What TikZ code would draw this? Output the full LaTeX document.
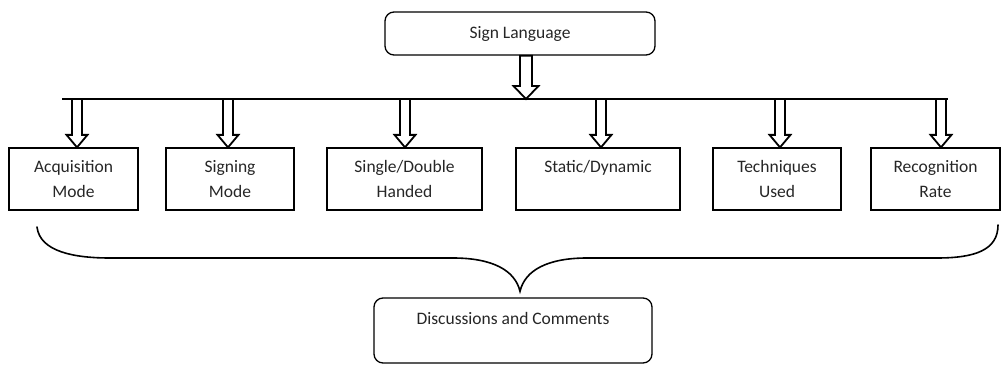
\documentclass[tikz,border=0pt]{standalone}
\usepackage{fontspec}
\setmainfont{Carlito}
\usetikzlibrary{calc}
\newcommand\hollowdown[5]{% start, tip, shaft half width, head half width, head length
  \path[hol] let \p1=#1, \p2=#2 in
    (\x1-#3,\y1) -- (\x1-#3,\y2+#5) -- (\x1-#4,\y2+#5) -- (\x1,\y2)
    -- (\x1+#4,\y2+#5) -- (\x1+#3,\y2+#5) -- (\x1+#3,\y1) -- cycle;}
\begin{document}
\begin{tikzpicture}[x=1pt,y=-1pt,
  box/.style={draw, line width=1.3pt, minimum height=62pt, inner sep=0pt, align=center,
    font=\fontsize{17.5}{25}\selectfont, text=black!85},
  rbox/.style={box, rounded corners=9pt},
  hol/.style={draw, line width=1.8pt, fill=white, line join=miter},
  bar/.style={line width=2.2pt},
  brace/.style={line width=1.6pt, line cap=round}]
\useasboundingbox (0,0) rectangle (1001,364);

% top box
\node[rbox, minimum width=270pt, minimum height=43pt] (sl) at (520,33.5) {Sign Language};

% category boxes
\node[box, minimum width=129pt] (a) at (73.5,179) {Acquisition\\Mode};
\node[box, minimum width=128pt] (b) at (230,179) {Signing\\Mode};
\node[box, minimum width=155pt] (c) at (404.5,179) {Single/Double\\Handed};
\node[box, minimum width=164pt] (d) at (598,179) {Static/Dynamic\\\phantom{Mode}};
\node[box, minimum width=128pt] (e) at (777,179) {Techniques\\Used};
\node[box, minimum width=129pt] (f) at (935.5,179) {Recognition\\Rate};

% bottom box
\node[rbox, minimum width=278pt, minimum height=65pt] (dc) at (513,330.5) {Discussions and Comments\\\phantom{Mode}};

% bar
\coordinate (barL) at (62,99);
\coordinate (barR) at (948,99);
\coordinate (barC) at (526,99);
\draw[bar] (barL) -- (barR);

% top arrow
\hollowdown{($(sl.south)+(6,0)$)}{(barC)}{6pt}{12.5pt}{13pt}

% branch arrows
\foreach \nm/\xx in {a/77, b/228, c/405, d/601, e/780, f/941}{
  \coordinate (s\nm) at (\xx,99);
  \coordinate (t\nm) at (s\nm |- \nm.north);
  \hollowdown{(s\nm)}{(t\nm)}{5pt}{10.5pt}{12.5pt}
}

% brace
\coordinate (brL) at (37,227);
\coordinate (brR) at (998,225);
\coordinate (brT) at ($(dc.north)+(7,-6)$);
\draw[brace] (brL) .. controls (40,252) and (75,258) .. (110,258) -- (453,258)
  .. controls (492,258) and (515,270) .. (brT)
  .. controls (525,270) and (548,258) .. (587,258) -- (937,258)
  .. controls (975,258) and (998,250) .. (brR);
\end{tikzpicture}
\end{document}
